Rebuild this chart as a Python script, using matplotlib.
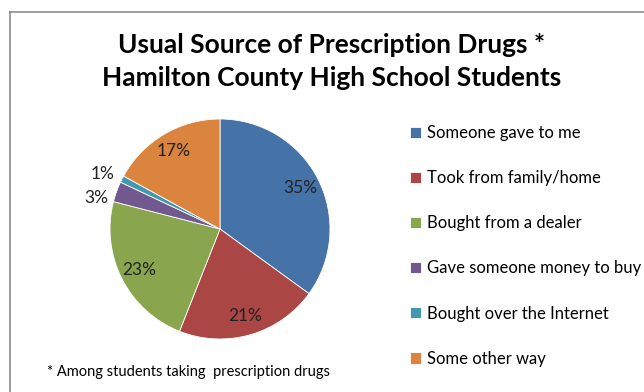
import matplotlib.pyplot as plt
import numpy as np

plt.rcParams['font.family'] = ['Lato', 'DejaVu Sans']

# Data
labels = ["Someone gave to me", "Took from family/home", "Bought from a dealer",
          "Gave someone money to buy", "Bought over the Internet", "Some other way"]
values = [35, 21, 23, 3, 1, 17]
colors = ["#4572A7", "#AA4643", "#89A54E", "#71588F", "#4198AF", "#DB843D"]

W, H = 644, 392
fig = plt.figure(figsize=(W / 100, H / 100), dpi=100)

# outer chart frame (cut off at right/bottom like the screenshot)
fig.add_artist(plt.Line2D([9.5 / W, 9.5 / W], [0, 1 - 11.5 / H], color="#8c8c8c", lw=1.2))
fig.add_artist(plt.Line2D([9.5 / W, 1], [1 - 11.5 / H, 1 - 11.5 / H], color="#8c8c8c", lw=1.2))

fig.text(332 / W, 1 - 45 / H, "Usual Source of Prescription Drugs *", ha="center", va="center",
         fontsize=19, fontweight="bold")
fig.text(332 / W, 1 - 78 / H, "Hamilton County High School Students", ha="center", va="center",
         fontsize=19, fontweight="bold")

# pie centred at (220, 229) px, radius 110 px
cx, cy, r = 220, 229, 110
ax = fig.add_axes([(cx - r) / W, (H - cy - r) / H, 2 * r / W, 2 * r / H])
wedges, _ = ax.pie(values, colors=colors, startangle=90, counterclock=False,
                   wedgeprops=dict(edgecolor="white", linewidth=0.6))
ax.set_xlim(-1, 1)
ax.set_ylim(-1, 1)
ax.axis("off")

# small slices get their labels outside, nudged apart vertically
nudge = iter([-7, 1])
for w, v in zip(wedges, values):
    mid = np.deg2rad((w.theta1 + w.theta2) / 2)
    if v >= 5:
        ax.text(0.82 * np.cos(mid), 0.82 * np.sin(mid), f"{v}%", ha="center",
                va="center", fontsize=12.5, color="#222222")
    else:
        ax.annotate(f"{v}%", (1.08 * np.cos(mid), 1.08 * np.sin(mid)),
                    xytext=(0, next(nudge)), textcoords="offset points",
                    ha="right", va="center", fontsize=12.5, color="#222222",
                    annotation_clip=False)

leg = fig.legend(wedges, labels, loc="upper left", bbox_to_anchor=(410 / W, 1 - 125 / H),
                 frameon=False, fontsize=12, handlelength=0.65, handleheight=0.65,
                 handletextpad=0.35, labelspacing=1.75, borderpad=0, borderaxespad=0)

fig.text(47 / W, 1 - 372 / H, "* Among students taking  prescription drugs", ha="left",
         va="center", fontsize=10.5)

fig.savefig("out.png", dpi=100)
